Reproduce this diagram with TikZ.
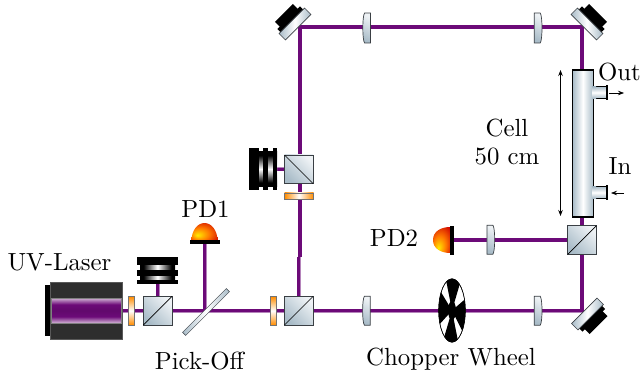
\documentclass[tikz,border=0pt]{standalone}
\usetikzlibrary{arrows.meta}
\font\labf="[lmroman10-regular]" at 24.8pt
\definecolor{beam}{HTML}{6C0A78}
\definecolor{glassA}{HTML}{EEF2F5}
\definecolor{glassB}{HTML}{A9BCC8}
\definecolor{edge}{HTML}{3A3F44}
\pgfdeclareverticalshading{beamband}{100bp}{color(0bp)=(white!70!beam);color(25bp)=(white!70!beam);color(38bp)=(beam);color(50bp)=(beam!90!black);color(62bp)=(beam);color(75bp)=(white!70!beam);color(100bp)=(white!70!beam)}
\pgfdeclarehorizontalshading{dumpH}{100bp}{color(0bp)=(black);color(30bp)=(black);color(50bp)=(white);color(70bp)=(black);color(100bp)=(black)}
\pgfdeclareradialshading{pdball}{\pgfpoint{-14bp}{-10bp}}{color(0bp)=(yellow!85!orange);color(18bp)=(orange!95!red);color(38bp)=(red!80!black);color(50bp)=(red!60!black)}
\pgfdeclareradialshading{pdballb}{\pgfpoint{-10bp}{-16bp}}{color(0bp)=(yellow!85!orange);color(18bp)=(orange!95!red);color(38bp)=(red!80!black);color(50bp)=(red!60!black)}
\tikzset{
  x=1pt,y=-1pt,
  beamline/.style={preaction={draw=beam!50!white,line width=4pt},draw=beam,line width=3.2pt},
  cube/.style={draw=edge,line width=0.7pt,left color=glassA,right color=glassB,shading angle=-45},
  lensbody/.style={draw=edge,line width=0.7pt,left color=glassA,right color=glassB,shading angle=-25},
  platebody/.style={draw=edge,line width=0.5pt,left color=glassB,right color=glassB,middle color=white},
  wavev/.style={draw=black!55,line width=0.4pt,top color=orange!90!yellow,bottom color=orange!90!yellow,middle color=white},
  waveh/.style={draw=black!55,line width=0.4pt,left color=orange!90!yellow,right color=orange!90!yellow,middle color=white},
  labeltext/.style={font=\labf,inner sep=0pt,text=black},
  fine/.style={draw=black,line width=0.7pt,-{Stealth[length=6pt,width=4.5pt,inset=2pt]}},
}
\newcommand{\mirrorhere}[3]{% centre, rotation
  \begin{scope}[shift={(#1,#2)},rotate=#3]
    \fill[black] (-16,-9) rectangle (16,-3);
    \fill[black] (-12.7,-15.6) rectangle (12.7,-8);
    \shade[draw=edge,line width=0.6pt,left color=glassB,right color=glassB,middle color=white] (-18,-4.5) rectangle (18,4.5);
  \end{scope}}
\newcommand{\cubehere}[3]{% x, y, dir
  \shade[cube] (#1-14.3,#2-14.3) rectangle (#1+14.3,#2+14.3);
  \draw[black,line width=0.7pt] (#1-14.3,#2+#3*14.3) -- (#1+14.3,#2-#3*14.3);}
\newcommand{\lensL}[3]{% x, y, halfheight; bulge to left
  \shade[lensbody] (#1+3.6,#2-#3) -- (#1-2.2,#2-#3) .. controls (#1-4.6,#2-#3+3) and (#1-4.6,#2+#3-3) .. (#1-2.2,#2+#3) -- (#1+3.6,#2+#3) -- cycle;}
\newcommand{\lensR}[3]{%
  \shade[lensbody] (#1-3.8,#2-#3) -- (#1+2.2,#2-#3) .. controls (#1+4.6,#2-#3+3) and (#1+4.6,#2+#3-3) .. (#1+2.2,#2+#3) -- (#1-3.8,#2+#3) -- cycle;}
\begin{document}
\begin{tikzpicture}
\useasboundingbox (0,0) rectangle (640,377);
\coordinate (cubeA) at (157.5,310.5);
\coordinate (laserEnd) at (122,310.5);
\coordinate (dumpA) at (157.5,283);
\coordinate (pick) at (204.5,310.5);
\coordinate (pdOne) at (204.5,242);
\coordinate (cubeB) at (298.8,310.5);
\coordinate (bend) at (298.8,257);
\coordinate (bendb) at (300,257);
\coordinate (cubeC) at (298.8,169.5);
\coordinate (mirrorA) at (300,27);
\coordinate (mirrorB) at (582,27);
\coordinate (cellTop) at (582,70);
\coordinate (cellBot) at (582,217);
\coordinate (cubeD) at (582,240);
\coordinate (mirrorC) at (582,310.5);
\coordinate (pdTwo) at (452,240);
\coordinate (dumpB) at (277,169.5);
% beams
\draw[beamline] (laserEnd) -- (mirrorC) -- (cubeD);
\draw[beamline] (cubeD) -- (cellBot);
\draw[beamline] (cubeD) -- (pdTwo);
\draw[beamline] (cellTop) -- (mirrorB) -- (mirrorA) -- (bendb);
\draw[beamline] (cubeB) -- (bend);
\draw[beamline] (cubeC) -- (dumpB);
\draw[beamline] (pick) -- (pdOne);
\draw[beamline] (cubeA) -- (dumpA);
% laser
\fill[black] (45,285) rectangle (51,336);
\fill[fill=black!82,draw=black!65,line width=0.5pt] (50,282) rectangle (122,339);
\shade[shading=beamband,draw=black!50,line width=0.4pt] (51,298) rectangle (121,323);
% waveplates
\shade[wavev] (128.3,296.5) rectangle (134,325);
\shade[wavev] (270,296.5) rectangle (275.7,325);
\shade[waveh] (284.5,192.7) rectangle (313.5,198.7);
% cubes
\cubehere{157.7}{310.7}{1}
\cubehere{298.8}{310.7}{1}
\cubehere{298.8}{169.3}{-1}
\cubehere{582}{240}{1}
% dumps
\shade[shading=dumpH] (140,262) rectangle (175,282);
\fill[black] (137,257) rectangle (178,265);
\fill[black] (137,270) rectangle (178,276);
\fill[black] (137,280) rectangle (178,284);
\shade[shading=dumpH,shading angle=90] (252,152) rectangle (277,186);
\fill[black] (249,148.5) rectangle (259,190);
\fill[black] (263,148.5) rectangle (268,190);
\fill[black] (273,148.5) rectangle (277,190);
% pick-off
\begin{scope}[shift={(206,312)},rotate=45]
\shade[platebody] (-31,-2.2) rectangle (31,2.2);
\end{scope}
% PD1
\shade[shading=pdball] (191.5,240.5) arc[start angle=180,end angle=0,x radius=13,y radius=-17.5] -- cycle;
\fill[black] (190,239.5) rectangle (220,244);
% PD2
\shade[shading=pdballb] (450.5,227) .. controls (440,227) and (433,232) .. (433,240) .. controls (433,248) and (440,253) .. (450.5,253) -- cycle;
\fill[black] (450,226) rectangle (453.5,254.5);
% lenses
\lensL{366.8}{28}{15}
\lensR{538}{28}{15}
\lensL{366.6}{310.7}{14.5}
\lensR{538}{310.7}{14.5}
\lensR{490.7}{239.7}{14.5}
% mirrors
\mirrorhere{295}{24}{45}
\mirrorhere{587}{24}{-45}
\mirrorhere{587.5}{314}{-135}
% chopper
\coordinate (chop) at (452,310.5);
\draw[fill=white,line width=0.5pt] (chop) ellipse[x radius=13.3,y radius=31.7];
\begin{scope}
\clip (chop) ellipse[x radius=13.3,y radius=31.7];
\begin{scope}[shift={(chop)},yscale=2.38]
\foreach \a in {-85,-175,-265,-350}{
  \fill[black] (0,0) -- (\a-30:16) arc[start angle=\a-30,end angle=\a+30,radius=16] -- cycle;}
\fill[black] (0,0) circle[radius=4];
\end{scope}
\end{scope}
\draw[line width=0.5pt] (chop) ellipse[x radius=13.3,y radius=31.7];
% cell
\shade[draw=black,line width=0.7pt,top color=glassB,bottom color=glassB,middle color=white] (590,86.5) rectangle (606,98.5);
\shade[draw=black,line width=0.7pt,top color=glassB,bottom color=glassB,middle color=white] (590,186.5) rectangle (606,198.5);
\fill[black] (605.5,85) rectangle (607.5,100);
\fill[black] (605.5,185) rectangle (607.5,200);
\shade[draw=black,line width=1.4pt,left color=glassB,right color=glassB,middle color=white] (572.5,70) rectangle (593.3,217);
\shade[top color=glassB,bottom color=glassB,middle color=white] (592.2,86.9) rectangle (596,98.1);
\shade[top color=glassB,bottom color=glassB,middle color=white] (592.2,186.9) rectangle (596,198.1);
% arrows
\coordinate (outA) at (609,93);
\coordinate (outB) at (624,93);
\coordinate (inA) at (624,193);
\coordinate (inB) at (611,193);
\coordinate (lenA) at (560.5,70);
\coordinate (lenB) at (560.5,216);
\draw[fine] (outA) -- (outB);
\draw[fine] (inA) -- (inB);
\draw[fine,{Stealth[length=6pt,width=4.5pt,inset=2pt]}-{Stealth[length=6pt,width=4.5pt,inset=2pt]}] (lenA) -- (lenB);
% labels
\node[labeltext] (lOut) at (619.5,72) {Out};
\node[labeltext] (lIn) at (620,166) {In};
\node[labeltext] (lCell) at (507,128) {Cell};
\node[labeltext] (lLen) at (507,157) {50 cm};
\node[labeltext] (lChop) at (451,359.5) {Chopper Wheel};
\node[labeltext] (lPick) at (199.5,361) {Pick-Off};
\node[labeltext] (lUV) at (59.5,262.5) {UV-Laser};
\node[labeltext] (lPDa) at (205.5,209) {PD1};
\node[labeltext] (lPDb) at (394,238) {PD2};
\end{tikzpicture}
\end{document}
